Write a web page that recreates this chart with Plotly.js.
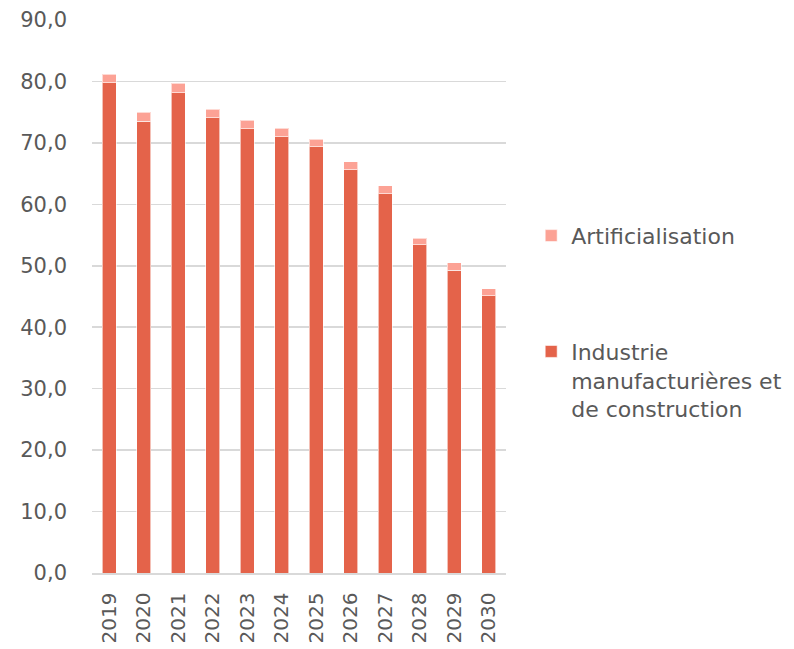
<!DOCTYPE html>
<html><head><meta charset="utf-8">
<script src="https://cdn.plot.ly/plotly-3.0.1.min.js"></script>
<style>html,body{margin:0;padding:0;background:#fff}#chart{width:794px;height:649px}</style>
</head><body><div id="chart"></div>
<script>
var years = ['2019','2020','2021','2022','2023','2024','2025','2026','2027','2028','2029','2030'];
var industrie = [79.8, 73.5, 78.2, 74.1, 72.3, 71.0, 69.4, 65.6, 61.7, 53.4, 49.3, 45.1];
var artificialisation = [1.4, 1.5, 1.5, 1.4, 1.4, 1.4, 1.2, 1.3, 1.3, 1.1, 1.2, 1.2];
var yTicks = [0,10,20,30,40,50,60,70,80,90];

var tickFont = {family: 'DejaVu Sans, sans-serif', size: 21, color: '#595959'};
var data = [
  {type:'bar', x: years, y: industrie, name: '<br><br>Industrie<br>manufacturières et<br>de construction',
   legendgroup:'a', legendrank: 2, marker:{color:'#E4634A', line:{color:'rgba(255,255,255,0.6)', width:1}}},
  {type:'bar', x: years, y: artificialisation, name: 'Artificialisation',
   legendgroup:'b', legendrank: 1, marker:{color:'#FCA295', line:{color:'rgba(255,255,255,0.6)', width:1}}}
];
var layout = {
  width: 794, height: 649,
  margin: {l: 92, r: 288, t: 20, b: 76, pad: 0, autoexpand: false},
  paper_bgcolor: '#fff', plot_bgcolor: '#fff',
  separators: ',.',
  barmode: 'stack', bargap: 0.59,
  showlegend: true,
  legend: {xref: 'container', yref: 'container', x: 0.669, xanchor: 'left', y: 0.669, yanchor: 'top',
           traceorder: 'grouped', tracegroupgap: 27,
           font: {family: 'DejaVu Sans, sans-serif', size: 22, color: '#595959'}},
  xaxis: {type: 'category', tickangle: -90, tickfont: {family: 'DejaVu Sans, sans-serif', size: 20, color: '#595959'},
          showgrid: false, ticks: '', showline: true, linecolor: '#d9d9d9', linewidth: 1.5, ticklabelstandoff: 10},
  yaxis: {range: [0, 90], tickvals: yTicks, tickformat: '.1f', tickfont: tickFont,
          showgrid: true, gridcolor: '#d9d9d9', gridwidth: 1.5, zeroline: false, showline: false,
          ticks: '', ticklabelstandoff: 24}
};
Plotly.newPlot('chart', data, layout, {displayModeBar: false, staticPlot: true});
</script>
</body></html>
